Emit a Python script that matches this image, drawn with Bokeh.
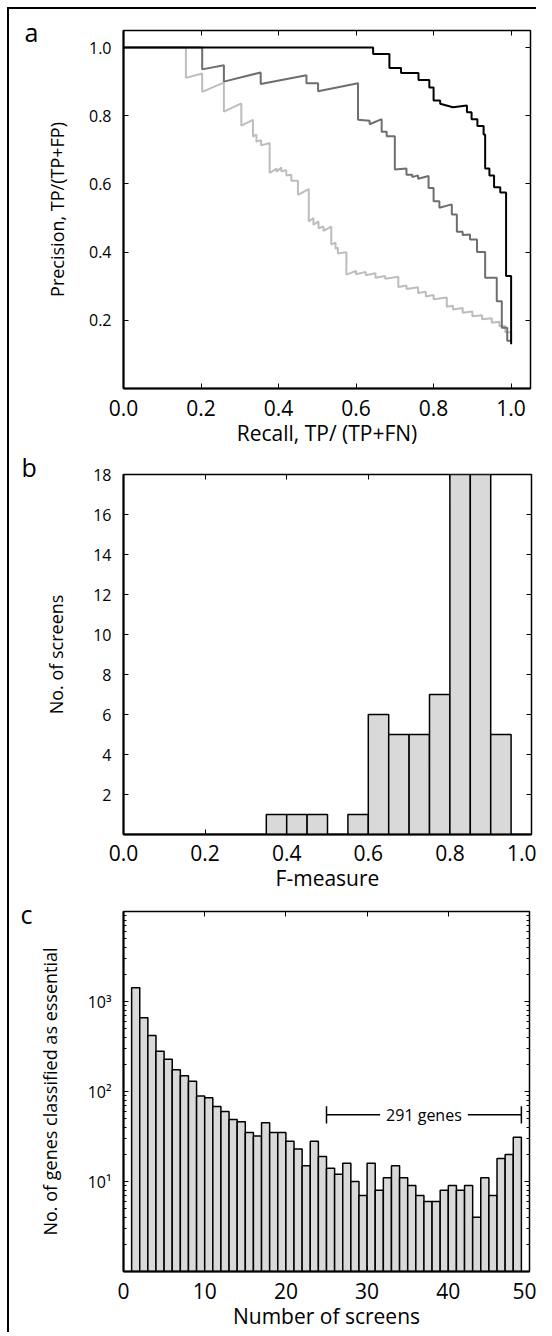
from bokeh.plotting import figure
from bokeh.models import LinearAxis, LogAxis, FixedTicker, Range1d, Label, NumeralTickFormatter
from bokeh.layouts import column
from bokeh.embed import file_html
from bokeh.resources import INLINE

FONT = "Open Sans"

# ---------------- Panel a: precision-recall curves ----------------
black_recall = [0.0, 0.644, 0.644, 0.686, 0.686, 0.716, 0.716, 0.761, 0.761, 0.789, 0.789,
                0.800, 0.800, 0.817, 0.817, 0.850, 0.886, 0.886, 0.898, 0.898, 0.913, 0.913,
                0.929, 0.929, 0.933, 0.933, 0.944, 0.944, 0.956, 0.956, 0.972, 0.972,
                0.987, 0.987, 1.0, 1.0]
black_precision = [1.0, 1.0, 0.981, 0.981, 0.94, 0.94, 0.925, 0.925, 0.905, 0.905, 0.883,
                   0.883, 0.845, 0.845, 0.835, 0.825, 0.83, 0.81, 0.81, 0.79, 0.79, 0.77,
                   0.77, 0.745, 0.745, 0.645, 0.645, 0.625, 0.625, 0.59, 0.59, 0.575,
                   0.575, 0.33, 0.33, 0.13]

dark_recall = [0.0, 0.203, 0.203, 0.259, 0.259, 0.354, 0.354, 0.472, 0.472, 0.502, 0.502,
               0.605, 0.605, 0.635, 0.635, 0.666, 0.666, 0.679, 0.679, 0.700, 0.700, 0.730,
               0.730, 0.745, 0.745, 0.760, 0.760, 0.787, 0.787, 0.800, 0.800, 0.815, 0.815,
               0.847, 0.847, 0.860, 0.860, 0.875, 0.875, 0.894, 0.894, 0.912, 0.912, 0.933,
               0.933, 0.963, 0.963, 0.976, 0.976, 0.990, 0.990, 1.0]
dark_precision = [1.0, 1.0, 0.936, 0.948, 0.90, 0.927, 0.893, 0.919, 0.895, 0.895, 0.872,
                  0.895, 0.788, 0.785, 0.775, 0.79, 0.753, 0.753, 0.74, 0.74, 0.642, 0.645,
                  0.627, 0.627, 0.62, 0.625, 0.615, 0.623, 0.588, 0.588, 0.549, 0.549, 0.53,
                  0.54, 0.51, 0.51, 0.46, 0.46, 0.45, 0.452, 0.437, 0.437, 0.40, 0.40,
                  0.325, 0.325, 0.256, 0.256, 0.178, 0.178, 0.14, 0.14]

light_recall = [0.0, 0.161, 0.161, 0.203, 0.203, 0.259, 0.259, 0.304, 0.304, 0.334, 0.334,
                0.343, 0.343, 0.355, 0.355, 0.377, 0.377, 0.395, 0.395, 0.407, 0.407, 0.420,
                0.420, 0.433, 0.433, 0.450, 0.450, 0.478, 0.478, 0.490, 0.490, 0.503, 0.503,
                0.516, 0.516, 0.536, 0.536, 0.547, 0.547, 0.553, 0.553, 0.575, 0.575, 0.600,
                0.600, 0.625, 0.625, 0.650, 0.650, 0.675, 0.675, 0.709, 0.709, 0.730, 0.730,
                0.760, 0.760, 0.780, 0.780, 0.800, 0.800, 0.834, 0.834, 0.850, 0.850, 0.875,
                0.875, 0.900, 0.900, 0.925, 0.925, 0.950, 0.950, 0.970, 0.970, 0.985, 0.985,
                1.0, 1.0]
light_precision = [1.0, 1.0, 0.911, 0.924, 0.87, 0.897, 0.812, 0.836, 0.771, 0.788, 0.739,
                   0.745, 0.724, 0.728, 0.713, 0.72, 0.632, 0.645, 0.636, 0.648, 0.637, 0.64,
                   0.625, 0.627, 0.609, 0.609, 0.568, 0.585, 0.49, 0.50, 0.48, 0.49, 0.47,
                   0.475, 0.462, 0.475, 0.422, 0.428, 0.41, 0.413, 0.396, 0.40, 0.334, 0.345,
                   0.335, 0.342, 0.332, 0.338, 0.325, 0.33, 0.322, 0.328, 0.298, 0.302, 0.292,
                   0.297, 0.28, 0.284, 0.27, 0.274, 0.262, 0.267, 0.24, 0.243, 0.232, 0.236,
                   0.222, 0.226, 0.212, 0.215, 0.203, 0.206, 0.193, 0.196, 0.183, 0.183, 0.165,
                   0.165, 0.14]

a_xticks = [0.0, 0.2, 0.4, 0.6, 0.8, 1.0]
a_yticks = [0.2, 0.4, 0.6, 0.8, 1.0]

# ---------------- Panel b: F-measure histogram ----------------
f_bin_left = [0.00, 0.05, 0.10, 0.15, 0.20, 0.25, 0.30, 0.35, 0.40, 0.45,
              0.50, 0.55, 0.60, 0.65, 0.70, 0.75, 0.80, 0.85, 0.90, 0.95]
f_counts = [0, 0, 0, 0, 0, 0, 0, 1, 1, 1, 0, 1, 6, 5, 5, 7, 18, 18, 5, 0]
f_bin_width = 0.05
b_xticks = [0.0, 0.2, 0.4, 0.6, 0.8, 1.0]
b_yticks = [2, 4, 6, 8, 10, 12, 14, 16, 18]

# ---------------- Panel c: genes per number of screens ----------------
screens = list(range(1, 49))
genes = [1420, 660, 420, 280, 228, 175, 150, 130, 89, 85,
         68, 60, 49, 46, 35, 32, 45, 35, 35, 28,
         23, 15, 28, 19, 14, 12, 16, 10, 7, 16,
         8, 11, 15, 11, 9, 7, 6, 6, 8, 9,
         8, 9, 4, 11, 7, 18, 20, 31]
c_xticks = [0, 10, 20, 30, 40, 50]
c_yticks = [10, 100, 1000]
c_ylabels = {10: "10¹", 100: "10²", 1000: "10³"}
bracket_from, bracket_to, bracket_level = 25, 49, 55
bracket_text = "291 genes"

FILL = "#d9d9d9"
LOG_MINORS = [m * d for d in (1, 10, 100, 1000) for m in range(2, 10)]


def base_style(p, xticks, yticks, xlabel, ylabel, y_log=False, fmt=None, ylab_standoff=18,
               xtick_standoff=11):
    p.grid.visible = False
    p.outline_line_color = "black"
    p.outline_line_width = 1.5
    p.outline_line_alpha = 1.0
    p.background_fill_color = "white"
    p.border_fill_color = "white"
    xa = p.below[0]
    ya = p.left[0]
    xa.ticker = FixedTicker(ticks=xticks)
    if y_log:
        ya.ticker = FixedTicker(ticks=yticks, minor_ticks=LOG_MINORS)
    else:
        ya.ticker = FixedTicker(ticks=yticks)
    for ax in (xa, ya):
        ax.axis_line_width = 2
        ax.axis_line_color = "black"
        ax.major_tick_in = 5
        ax.major_tick_out = 0
        ax.major_tick_line_width = 1
        ax.minor_tick_in = 0
        ax.minor_tick_out = 0
        ax.major_label_text_font = FONT
        ax.major_label_text_color = "black"
        ax.axis_label_text_font = FONT
        ax.axis_label_text_font_style = "normal"
        ax.axis_label_text_color = "black"
    if y_log:
        ya.minor_tick_in = 3
    if fmt:
        xa.formatter = NumeralTickFormatter(format=fmt)
        if not y_log:
            ya.formatter = NumeralTickFormatter(format=fmt)
    xa.major_label_text_font_size = "21px"
    xa.axis_label_text_font_size = "21px"
    xa.major_label_standoff = xtick_standoff
    xa.axis_label_standoff = 0
    xa.axis_label = xlabel
    ya.major_label_text_font_size = "16px"
    ya.axis_label_text_font_size = "18px"
    ya.major_label_standoff = 12
    ya.axis_label_standoff = ylab_standoff
    ya.axis_label = ylabel

    # mirrored ticks on top and right (no labels)
    top = LinearAxis(ticker=FixedTicker(ticks=xticks))
    if y_log:
        right = LogAxis(ticker=FixedTicker(ticks=yticks, minor_ticks=LOG_MINORS))
    else:
        right = LinearAxis(ticker=FixedTicker(ticks=yticks))
    for ax in (top, right):
        ax.axis_line_color = None
        ax.major_tick_in = 5
        ax.major_tick_out = 0
        ax.major_tick_line_width = 1
        ax.minor_tick_in = 0
        ax.minor_tick_out = 0
        ax.major_label_text_font_size = "0px"
        ax.major_label_text_color = None
        ax.major_label_standoff = 0
    if y_log:
        right.minor_tick_in = 3
    p.add_layout(top, "above")
    p.add_layout(right, "right")


def panel_letter(p, letter, offset, standoff):
    # panel letter drawn as the figure title, left of the frame
    p.title.text = letter
    p.title.align = "left"
    p.title.offset = offset
    p.title.standoff = standoff
    p.title.text_font = FONT
    p.title.text_font_size = "25px"
    p.title.text_font_style = "normal"
    p.title.text_color = "black"


# ---------------- figure a ----------------
pa = figure(frame_width=407, frame_height=358, x_range=Range1d(0, 1.05), y_range=Range1d(0, 1.05),
            output_backend="svg", toolbar_location=None,
            min_border_left=112, min_border_right=8, min_border_top=21, min_border_bottom=60)
base_style(pa, a_xticks, a_yticks, "Recall, TP/ (TP+FN)", "Precision, TP/(TP+FP)",
           fmt="0.0", ylab_standoff=17)
pa.line(light_recall, light_precision, line_color="#bdbdbd", line_width=2)
pa.line(dark_recall, dark_precision, line_color="#6e6e6e", line_width=2)
pa.line(black_recall, black_precision, line_color="black", line_width=2)
panel_letter(pa, "a", -99, -36)

# ---------------- figure b ----------------
pb = figure(frame_width=408, frame_height=360, x_range=Range1d(0, 1.0), y_range=Range1d(0, 18),
            output_backend="svg", toolbar_location=None,
            min_border_left=113, min_border_right=6, min_border_top=25, min_border_bottom=52)
base_style(pb, b_xticks, b_yticks, "F-measure", "No. of screens", fmt=None, ylab_standoff=22,
           xtick_standoff=10)
pb.below[0].formatter = NumeralTickFormatter(format="0.0")
pb.quad(left=f_bin_left, right=[l + f_bin_width for l in f_bin_left], bottom=0, top=f_counts,
        fill_color=FILL, line_color="black", line_width=1.5)
panel_letter(pb, "b", -102, -18)

# ---------------- figure c ----------------
pc = figure(frame_width=406, frame_height=360, x_range=Range1d(0, 50), y_range=Range1d(1, 10000),
            y_axis_type="log", output_backend="svg", toolbar_location=None,
            min_border_left=114, min_border_right=7, min_border_top=17, min_border_bottom=58)
base_style(pc, c_xticks, c_yticks, "Number of screens", "No. of genes classified as essential",
           y_log=True, ylab_standoff=23)
pc.left[0].major_label_overrides = c_ylabels
pc.quad(left=screens, right=[s + 1 for s in screens], bottom=1, top=genes,
        fill_color=FILL, line_color="black", line_width=1.5)
cap = 1.25
pc.segment(x0=[bracket_from], y0=[bracket_level], x1=[bracket_to], y1=[bracket_level],
           line_color="black", line_width=1.5)
pc.segment(x0=[bracket_from, bracket_to], y0=[bracket_level / cap] * 2,
           x1=[bracket_from, bracket_to], y1=[bracket_level * cap] * 2,
           line_color="black", line_width=1.5)
pc.add_layout(Label(x=(bracket_from + bracket_to) / 2, y=bracket_level, text=bracket_text,
                    text_font=FONT, text_font_size="16px", text_color="black",
                    text_align="center", text_baseline="middle",
                    background_fill_color="white", padding=6))
panel_letter(pc, "c", -103, -38)

inner = column(pa, pb, pc, spacing=0,
               styles={"border-left": "2px solid black", "border-top": "2px solid black"})
layout = column(inner, styles={"padding-left": "7px", "padding-top": "7px",
                               "background-color": "white"})

open("out.html", "w").write(file_html(layout, INLINE))
